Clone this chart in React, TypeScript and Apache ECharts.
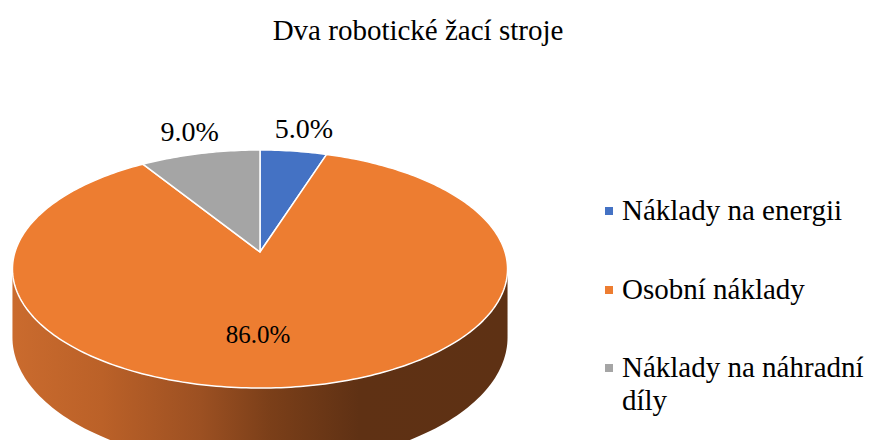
import React, { useEffect, useRef } from "react";
import * as echarts from "echarts";

const TITLE = "Dva robotické žací stroje";
const categories = ["Náklady na energii", "Osobní náklady", "Náklady na náhradní díly"];
const legendLines = [["Náklady na energii"], ["Osobní náklady"], ["Náklady na náhradní", "díly"]];
const values = [5.0, 86.0, 9.0];
const colors = ["#4472c4", "#ed7d31", "#a5a5a5"];

const FONT = "serif";

// projection of the tilted pie (perspective)
const CX = 260;
const CY = 252;
const RX = 245;
const RY = 116.6;
const K = 0.143;
const DEPTH = 67;

function proj(theta: number, f: number) {
  const u = Math.sin(theta) * f;
  const v = Math.cos(theta) * f;
  const d = 1 + K * v;
  return [CX + (RX * u) / d, CY - (RY * v) / d, d];
}

const total = values.reduce((s, v) => s + v, 0);
const starts: number[] = [];
{
  let acc = 0;
  for (const v of values) {
    starts.push(acc);
    acc += v;
  }
}

export default function App() {
  const ref = useRef<HTMLDivElement>(null);
  useEffect(() => {
    if (!ref.current) return;
    document.body.style.margin = "0";
    const chart = echarts.init(ref.current, null, { renderer: "svg" });
    const tangent = Math.acos(-K); // silhouette angle

    const renderItem = (params: any, api: any) => {
      const i = params.dataIndex;
      const val = api.value(0);
      const a0 = (starts[i] / total) * Math.PI * 2;
      const a1 = a0 + (val / total) * Math.PI * 2;
      const children: any[] = [];

      // side wall (front part only)
      const w0 = Math.max(a0, tangent);
      const w1 = Math.min(a1, Math.PI * 2 - tangent);
      if (w1 > w0) {
        const top: number[][] = [];
        const bot: number[][] = [];
        const n = 120;
        for (let s = 0; s <= n; s++) {
          const t = w0 + ((w1 - w0) * s) / n;
          const p = proj(t, 1);
          top.push([p[0], p[1]]);
          bot.push([p[0], p[1] + DEPTH / p[2]]);
        }
        children.push({
          type: "polygon",
          shape: { points: top.concat(bot.reverse()) },
          style: {
            fill: {
              type: "linear",
              x: 12,
              y: 0,
              x2: 508,
              y2: 0,
              global: true,
              colorStops: [
                { offset: 0, color: "#ca6b2e" },
                { offset: 0.18, color: "#bb6128" },
                { offset: 0.38, color: "#9c5022" },
                { offset: 0.52, color: "#7b3f19" },
                { offset: 0.7, color: "#5f3114" },
                { offset: 1, color: "#5e3114" },
              ],
            },
          },
        });
      }

      // top face
      const pts: number[][] = [[CX, CY]];
      const steps = Math.max(4, Math.ceil(((a1 - a0) * 180) / Math.PI));
      for (let s = 0; s <= steps; s++) {
        const t = a0 + ((a1 - a0) * s) / steps;
        const p = proj(t, 1);
        pts.push([p[0], p[1]]);
      }
      children.push({
        type: "polygon",
        shape: { points: pts },
        style: { fill: colors[i], stroke: "#ffffff", lineWidth: 1.5, lineJoin: "round" },
      });

      // label
      const mid = (a0 + a1) / 2;
      const big = val / total > 0.5;
      const lp = proj(mid, big ? 0.65 : 1.26);
      children.push({
        type: "text",
        x: lp[0] + (big ? -24 : 3),
        y: lp[1],
        z2: 10,
        style: {
          text: val.toFixed(1) + "%",
          fill: "#000000",
          fontSize: big ? 25 : 28,
          fontFamily: FONT,
          align: "center",
          verticalAlign: "middle",
        },
      });
      return { type: "group", children };
    };

    const legendGraphics: any[] = [];
    const legendY = [210, 289, 367];
    categories.forEach((name, i) => {
      legendGraphics.push({
        type: "rect",
        left: 605,
        top: legendY[i] - 3,
        shape: { width: 8, height: 8 },
        style: { fill: colors[i] },
      });
      legendLines[i].forEach((line, j) => {
        legendGraphics.push({
          type: "text",
          x: 622,
          y: legendY[i] + j * 33,
          style: {
            text: line,
            fill: "#000000",
            fontSize: 29,
            fontFamily: FONT,
            align: "left",
            verticalAlign: "middle",
          },
        });
      });
    });

    chart.setOption({
      animation: false,
      backgroundColor: "#ffffff",
      textStyle: { fontFamily: FONT },
      title: {
        text: TITLE,
        left: 413,
        top: 10,
        textAlign: "center",
        textStyle: { fontFamily: FONT, fontSize: 29, fontWeight: "normal", color: "#000000" },
      },
      graphic: legendGraphics,
      series: [
        {
          type: "custom",
          coordinateSystem: "none",
          renderItem,
          data: values.map((v, i) => ({ name: categories[i], value: [v] })),
        },
      ],
    });
    return () => chart.dispose();
  }, []);
  return <div ref={ref} style={{ width: 870, height: 440 }} />;
}
